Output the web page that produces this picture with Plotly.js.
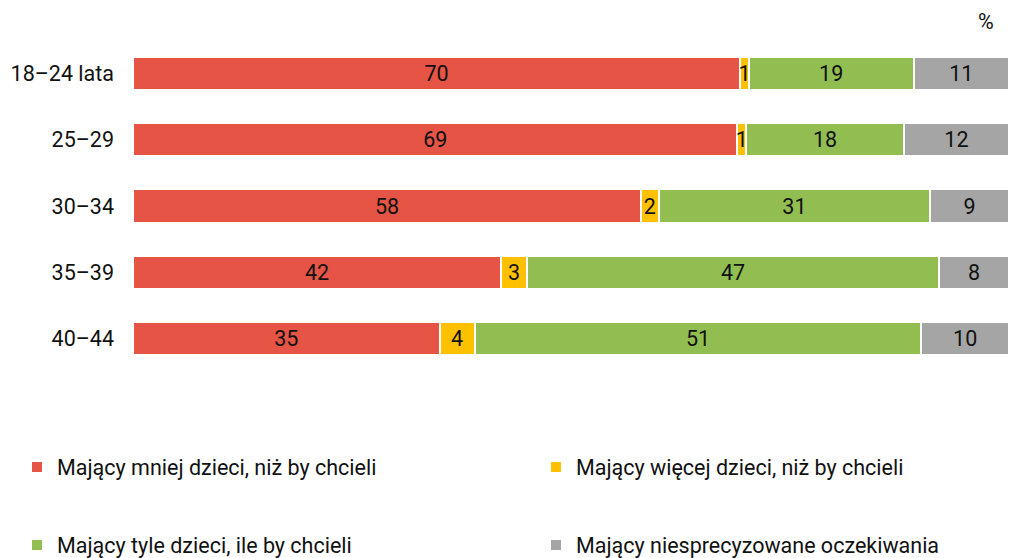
<!DOCTYPE html>
<html>
<head>
<meta charset="utf-8">
<script src="https://cdn.plot.ly/plotly-3.0.1.min.js"></script>
<style>html,body{margin:0;padding:0;background:#fff;}#chart{width:1009px;height:558px;}</style>
</head>
<body>
<div id="chart"></div>
<script>
const categories = ["18–24 lata", "25–29", "30–34", "35–39", "40–44"];
const seriesNames = [
  "Mający mniej dzieci, niż by chcieli",
  "Mający więcej dzieci, niż by chcieli",
  "Mający tyle dzieci, ile by chcieli",
  "Mający niesprecyzowane oczekiwania"
];
const mniej = [70, 69, 58, 42, 35];
const wiecej = [1, 1, 2, 3, 4];
const tyle = [19, 18, 31, 47, 51];
const niesprecyzowane = [11, 12, 9, 8, 10];
const colors = ["#E55445", "#FFC000", "#92BE51", "#A5A5A5"];
const legendIds = ["legend", "legend2", "legend3", "legend4"];

const FS = 21.5;
const allValues = [mniej, wiecej, tyle, niesprecyzowane];
const traces = allValues.map((vals, i) => ({
  type: "bar",
  orientation: "h",
  name: seriesNames[i],
  y: categories,
  x: vals,
  text: vals.map(String),
  textposition: "inside",
  insidetextanchor: "middle",
  constraintext: "none",
  textfont: {family: "Roboto", size: FS, color: "#111"},
  marker: {color: colors[i], line: {color: "#ffffff", width: 2}},
  legend: legendIds[i],
  hoverinfo: "none"
}));

function leg(xpx, ypx) {
  return {
    orientation: "h",
    xref: "container",
    yref: "container",
    x: xpx / 1009,
    y: 1 - ypx / 558,
    xanchor: "left",
    yanchor: "middle",
    font: {family: "Roboto", size: FS, color: "#111"},
    bgcolor: "rgba(0,0,0,0)"
  };
}

const layout = {
  width: 1009,
  height: 558,
  margin: {l: 133, r: 0, t: 40, b: 186},
  paper_bgcolor: "#fff",
  plot_bgcolor: "#fff",
  barmode: "stack",
  barnorm: "percent",
  bargap: 0.5,
  font: {family: "Roboto", size: FS, color: "#111"},
  xaxis: {range: [0, 100], showgrid: false, zeroline: false, showticklabels: false, showline: false, fixedrange: true},
  yaxis: {autorange: "reversed", showgrid: false, zeroline: false, showline: false, ticks: "", ticklabelstandoff: 18, tickfont: {family: "Roboto", size: FS, color: "#111"}},
  showlegend: true,
  legend: leg(17, 467),
  legend2: leg(536, 467),
  legend3: leg(17, 545),
  legend4: leg(536, 545),
  annotations: [{
    text: "%", xref: "paper", yref: "paper", x: 0.974, y: 1 + 18 / 332,
    xanchor: "center", yanchor: "middle", showarrow: false,
    font: {family: "Roboto", size: FS, color: "#111"}
  }]
};

Plotly.newPlot("chart", traces, layout, {displayModeBar: false, staticPlot: true});
</script>
</body>
</html>
